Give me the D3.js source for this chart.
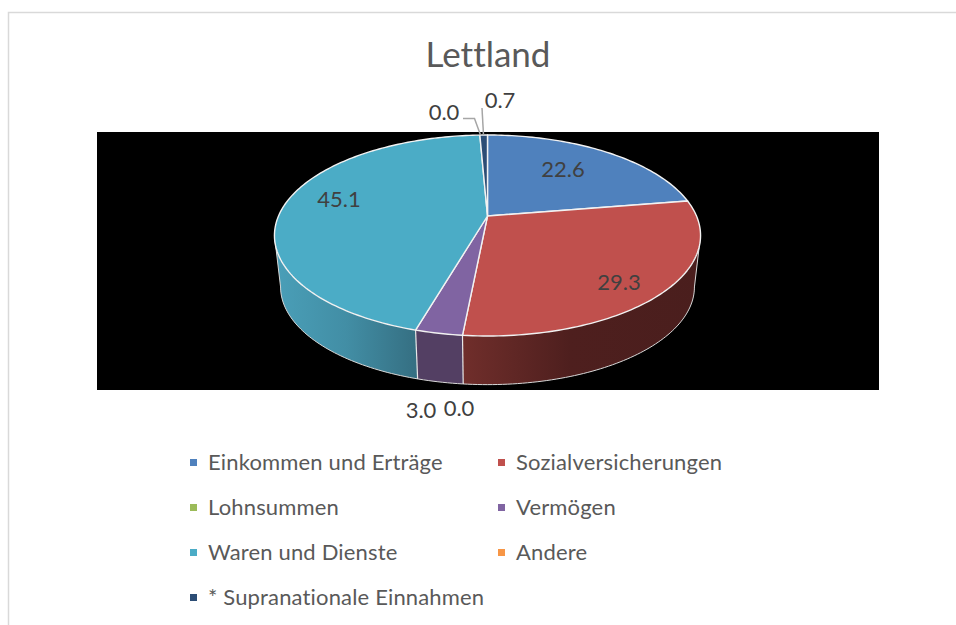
<!DOCTYPE html>
<html>
<head>
<meta charset="utf-8">
<script src="https://d3js.org/d3.v7.min.js"></script>
<style>
html, body { margin: 0; padding: 0; background: #fff; overflow: hidden; }
svg { display: block; font-family: Lato, "Open Sans", sans-serif; font-variant-ligatures: none; }
</style>
</head>
<body>
<svg id="chart" width="956" height="625"></svg>
<script>
const categories = ["Einkommen und Erträge", "Sozialversicherungen", "Lohnsummen", "Vermögen",
    "Waren und Dienste", "Andere", "* Supranationale Einnahmen"];
const values = [22.6, 29.3, 0.0, 3.0, 45.1, 0.0, 0.7];
const colors = ["#4f81bd", "#c0504d", "#9bbb59", "#8064a2", "#4bacc6", "#f79646", "#2c4d75"];
const valueLabels = ["22.6", "29.3", "0.0", "3.0", "45.1", "0.0", "0.7"];
const chartTitle = "Lettland";

const svg = d3.select("#chart");

// 图框
svg.append("path")
    .attr("d", "M8.5,625V12.5H956")
    .attr("fill", "none")
    .attr("stroke", "#d9d9d9")
    .attr("stroke-width", 1.5);

// 黑色绘图区
svg.append("rect")
    .attr("x", 97).attr("y", 132)
    .attr("width", 782).attr("height", 258)
    .attr("fill", "#000");

svg.append("text")
    .attr("x", 488).attr("y", 67)
    .attr("text-anchor", "middle")
    .attr("font-size", 35)
    .attr("fill", "#595959")
    .text(chartTitle);

const pie = d3.pie().sort(null).value(d => d);
const arcs = pie(values);

// 透视投影: 圆盘上的点 -> 屏幕
const persp = 0.194;
function project(angle, a, b, cx, cy) {
    const u = Math.sin(angle), v = -Math.cos(angle);
    const w = 1 - persp * v;
    return [cx + a * u / w, cy + b * v / w];
}
const topPoint = angle => project(angle, 209, 96.7, 487.5, 216);
const bottomPoint = angle => project(angle, 203, 94, 487.5, 268);

function sampleAngles(start, end) {
    const n = Math.max(2, Math.ceil((end - start) / 0.02));
    return d3.range(n + 1).map(i => start + (end - start) * i / n);
}

const line = d3.line();
const defs = svg.append("defs");

// 侧面渐变
defs.append("linearGradient").attr("id", "sideRed")
    .attr("gradientUnits", "userSpaceOnUse")
    .attr("x1", 463).attr("x2", 701).attr("y1", 0).attr("y2", 0)
    .selectAll("stop")
    .data([["#702e2b", 0], ["#4e1f1e", 0.45], ["#4a1e1d", 1]])
    .join("stop")
    .attr("offset", d => d[1]).attr("stop-color", d => d[0]);
defs.append("linearGradient").attr("id", "sideTeal")
    .attr("gradientUnits", "userSpaceOnUse")
    .attr("x1", 275).attr("x2", 417).attr("y1", 0).attr("y2", 0)
    .selectAll("stop")
    .data([["#4a9fb8", 0], ["#428ea5", 0.5], ["#356f82", 1]])
    .join("stop")
    .attr("offset", d => d[1]).attr("stop-color", d => d[0]);

const sideFill = ["#4a1e1d", "url(#sideRed)", "#4e5c30", "#533f63", "url(#sideTeal)", "#7a4a20", "#1b2f47"];
const visible = arcs.filter(d => d.value > 0);

// 可见侧面的角度范围 (左右轮廓切点)
const silhouette = Math.acos(-persp);
const frontStart = silhouette, frontEnd = 2 * Math.PI - silhouette;

// 侧面: 只画正面可见的那一段
const walls = visible
    .map(d => ({
        index: d.index,
        start: Math.max(d.startAngle, frontStart),
        end: Math.min(d.endAngle, frontEnd)
    }))
    .filter(d => d.end > d.start);
svg.append("g").selectAll("path")
    .data(walls)
    .join("path")
    .attr("d", d => {
        const as = sampleAngles(d.start, d.end);
        return line(as.map(topPoint).concat(as.slice().reverse().map(bottomPoint))) + "Z";
    })
    .attr("fill", d => sideFill[d.index]);

// 侧面外轮廓和切线
const frontArc = sampleAngles(frontStart, frontEnd);
svg.append("path")
    .attr("d", line([topPoint(frontStart)].concat(frontArc.map(bottomPoint), [topPoint(frontEnd)])))
    .attr("fill", "none")
    .attr("stroke", "#d8d8d8")
    .attr("stroke-width", 1);

// 扇区在侧面上的竖边
const wallEdges = visible.map(d => d.endAngle).filter(a => a > frontStart && a < frontEnd);
svg.append("g").selectAll("path")
    .data(wallEdges)
    .join("path")
    .attr("d", a => line([topPoint(a), bottomPoint(a)]))
    .attr("stroke", "#e8e8e8")
    .attr("stroke-width", 1.2);

// 顶面
svg.append("g").selectAll("path")
    .data(visible)
    .join("path")
    .attr("d", d => line([[487.5, 216]].concat(sampleAngles(d.startAngle, d.endAngle).map(topPoint))) + "Z")
    .attr("fill", d => colors[d.index])
    .attr("stroke", "#f2f2f2")
    .attr("stroke-width", 1.4)
    .attr("stroke-linejoin", "round");

// 引线
const leaders = [
    [[463, 118.5], [474.5, 118.5], [480.5, 135]],
    [[482, 108], [483.5, 135]]
];
svg.append("g").selectAll("path")
    .data(leaders)
    .join("path")
    .attr("d", line)
    .attr("fill", "none")
    .attr("stroke", "#a6a6a6")
    .attr("stroke-width", 1.5);

// 数据标签位置
const labelPos = [[563, 169], [619, 282], [459, 408], [421, 410], [339, 199], [444, 112], [500, 100]];
svg.append("g").selectAll("text")
    .data(valueLabels)
    .join("text")
    .attr("x", (d, i) => labelPos[i][0])
    .attr("y", (d, i) => labelPos[i][1])
    .attr("dy", "0.35em")
    .attr("text-anchor", "middle")
    .attr("font-size", 22)
    .attr("fill", "#404040")
    .text(d => d);

// 图例
const legendX = d3.scalePoint().domain([0, 1]).range([190, 498]);
const legendY = d3.scalePoint().domain([0, 1, 2, 3]).range([462.5, 597.5]);
const legend = svg.append("g").selectAll("g")
    .data(categories)
    .join("g")
    .attr("transform", (d, i) => `translate(${legendX(i % 2)},${legendY(Math.floor(i / 2))})`);
legend.append("rect")
    .attr("x", 0).attr("y", -3.5)
    .attr("width", 7).attr("height", 7)
    .attr("fill", (d, i) => colors[i]);
legend.append("text")
    .attr("x", 18)
    .attr("dy", "0.35em")
    .attr("font-size", 22)
    .attr("letter-spacing", 0.16)
    .attr("fill", "#595959")
    .text(d => d);
</script>
</body>
</html>
